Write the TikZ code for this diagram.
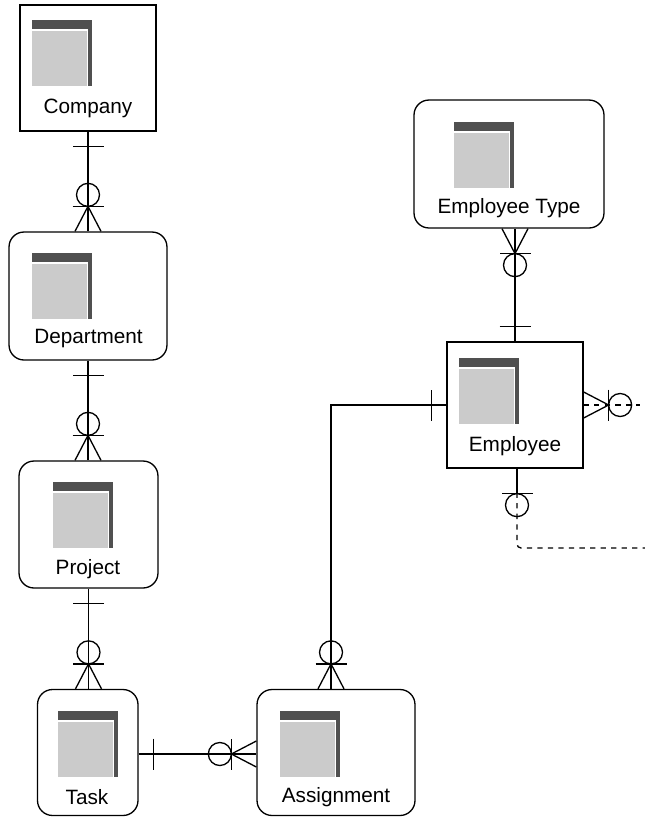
\documentclass[tikz,border=0pt]{standalone}
\usepackage{fontspec}
\setmainfont{Liberation Sans}
\definecolor{icondark}{HTML}{505050}
\definecolor{icongray}{HTML}{CBCBCB}
\tikzset{
	entity/.style={shape=rectangle, draw, line width=0.75pt, inner sep=0pt, minimum height=2.52cm},
	roundentity/.style={entity, rounded corners=0.3cm},
	entitylabel/.style={inner sep=0pt, font=\fontsize{11.8}{14}\selectfont},
	tableicon/.pic={
		\fill[icondark] (0,0) rectangle (60,66);
		\fill[white] (0,9) rectangle (56,66);
		\fill[icongray] (0,10.5) rectangle (55,66);
	},
	onebar/.pic={
		\draw[line width=0.75pt] (15,-15.5) -- (15,15.5);
	},
	zerobar/.pic={
		\draw[line width=0.75pt] (25,-15.5) -- (25,15.5);
		\draw[line width=0.75pt] (36.5,0) circle (11.5);
	},
	zeromany/.pic={
		\draw[line width=0.75pt] (0,-13) -- (25,0) -- (0,13);
		\draw[line width=0.75pt] (25,-15.5) -- (25,15.5);
		\draw[line width=0.75pt] (36.5,0) circle (11.5);
	},
}
\begin{document}
\begin{tikzpicture}[x=0.02cm, y=-0.02cm, line width=0.75pt]
	\useasboundingbox (0,0) rectangle (645,818);
	% Entities:
	\node[entity, minimum width=2.72cm] (company) at (88,68){};
	\node[roundentity, minimum width=3.16cm, minimum height=2.56cm] (department) at (88,296){};
	\node[roundentity, minimum width=2.78cm, minimum height=2.54cm] (project) at (88.5,524.5){};
	\node[roundentity, minimum width=2.01cm] (task) at (87.75,752.5){};
	\node[roundentity, minimum width=3.16cm] (assignment) at (336,752.5){};
	\node[roundentity, minimum width=3.8cm, minimum height=2.56cm] (emptype) at (509,164){};
	\node[entity, minimum width=2.72cm] (employee) at (515,405){};
	% Icons:
	\pic at (32,20) {tableicon};
	\pic at (32,253) {tableicon};
	\pic at (53,482) {tableicon};
	\pic at (58,711) {tableicon};
	\pic at (280,711) {tableicon};
	\pic at (454,122) {tableicon};
	\pic at (459,358) {tableicon};
	% Labels:
	\node[entitylabel] (companylabel) at (88,108){Company};
	\node[entitylabel] (departmentlabel) at (88.5,339){Department};
	\node[entitylabel] (projectlabel) at (88,569){Project};
	\node[entitylabel] (tasklabel) at (87,797){Task};
	\node[entitylabel] (assignmentlabel) at (336,797){Assignment};
	\node[entitylabel] (emptypelabel) at (509,208){Employee Type};
	\node[entitylabel] (employeelabel) at (515,446){Employee};
	% Wires:
	\draw (company.south) -- (department.north);
	\pic[rotate=-90] at (company.south) {onebar};
	\pic[rotate=90] at (department.north) {zeromany};
	\draw (department.south) -- (department.south |- project.north);
	\pic[rotate=-90] at (department.south) {onebar};
	\pic[rotate=90] at (department.south |- project.north) {zeromany};
	\draw (project.south) -- (project.south |- task.north);
	\pic[rotate=-90] at (project.south) {onebar};
	\pic[rotate=90] at (project.south |- task.north) {zeromany};
	\draw ([yshift=-0.03cm]task.east) -- ([yshift=-0.03cm]assignment.west);
	\pic at ([yshift=-0.03cm]task.east) {onebar};
	\pic[rotate=180] at ([yshift=-0.03cm]assignment.west) {zeromany};
	\coordinate (assigntop) at ([xshift=-0.1cm]assignment.north);
	\draw (employee.west) -| (assigntop);
	\pic[rotate=180] at (employee.west) {onebar};
	\pic[rotate=90] at (assigntop) {zeromany};
	\draw (employee.north) -- (employee.north |- emptype.south);
	\pic[rotate=90] at (employee.north) {onebar};
	\pic[rotate=-90] at (employee.north |- emptype.south) {zeromany};
	% Dashed wires:
	\coordinate (empright) at (640,405);
	\draw[dashed] (employee.east) -- (empright);
	\pic at (employee.east) {zeromany};
	\coordinate (empbottom) at ([xshift=0.04cm]employee.south);
	\coordinate (empbar) at ([yshift=-0.48cm]empbottom);
	\coordinate (dashend) at (645,548);
	\draw (empbottom) -- (empbar);
	\draw[dashed, rounded corners=0.08cm] (empbar) |- (dashend);
	\pic[rotate=-90] at (empbottom) {zerobar};
\end{tikzpicture}
\end{document}
